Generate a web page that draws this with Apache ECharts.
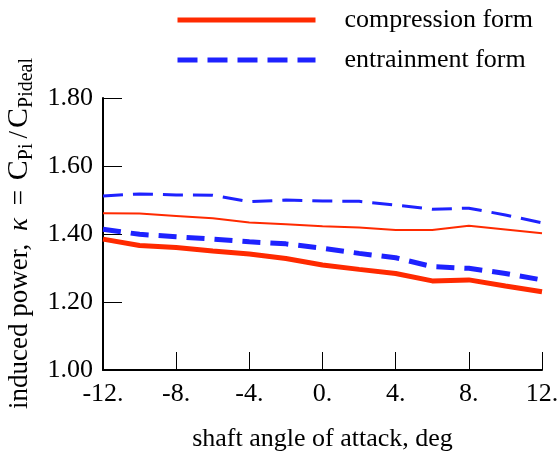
<!DOCTYPE html>
<html><head><meta charset="utf-8">
<script src="https://cdn.jsdelivr.net/npm/echarts@6/dist/echarts.min.js"></script>
<style>html,body{margin:0;padding:0;background:#fff}#c{width:560px;height:456px}</style>
</head><body><div id="c"></div>
<script>
var angles = [-12, -10, -8, -6, -4, -2, 0, 2, 4, 6, 8, 10, 12];
var compressionThin = [1.461, 1.460, 1.453, 1.446, 1.434, 1.429, 1.423, 1.419, 1.412, 1.412, 1.424, 1.413, 1.402];
var compressionThick = [1.385, 1.366, 1.360, 1.350, 1.341, 1.328, 1.309, 1.296, 1.284, 1.262, 1.265, 1.247, 1.230];
var entrainmentThin = [1.512, 1.518, 1.515, 1.514, 1.495, 1.500, 1.497, 1.496, 1.485, 1.473, 1.476, 1.456, 1.433];
var entrainmentThick = [1.414, 1.399, 1.392, 1.385, 1.377, 1.371, 1.358, 1.343, 1.330, 1.304, 1.299, 1.284, 1.265];
var legendNames = ['compression form', 'entrainment form'];

var RED = '#ff2a00', BLUE = '#1e22ff';
var FONT = 'Liberation Serif';
function pairs(v){ return angles.map(function(a,i){ return [a, v[i]]; }); }

function legendFor(name, top, ls){
  return {
    orient:'horizontal', left:170, top:top, itemWidth:138, itemHeight:20,
    selectedMode:false,
    textStyle:{fontFamily:FONT, fontSize:26, color:'#000', padding:[0,0,0,24]},
    itemStyle:{opacity:0},
    lineStyle:ls,
    data:[{name:name}]
  };
}

var chart = echarts.init(document.getElementById('c'), null, {renderer:'canvas'});
chart.setOption({
  animation:false,
  backgroundColor:'#fff',
  textStyle:{fontFamily:FONT, color:'#000'},
  grid:{left:103, right:18, top:98, bottom:86, containLabel:false, outerBoundsMode:'none'},
  legend:[
    legendFor(legendNames[0], 2, {color:RED, width:5, type:'solid', opacity:1}),
    legendFor(legendNames[1], 42, {color:BLUE, width:5, type:[20,10], opacity:1})
  ],
  xAxis:{
    type:'value', min:-12, max:12, interval:4,
    name:'shaft angle of attack, deg', nameLocation:'middle', nameGap:56,
    nameTextStyle:{fontFamily:FONT, fontSize:26, color:'#000'},
    axisLine:{onZero:false, lineStyle:{color:'#000', width:2}},
    axisTick:{inside:true, length:18, lineStyle:{color:'#000', width:1}},
    axisLabel:{fontFamily:FONT, fontSize:26, color:'#000', margin:11,
      formatter:function(v){ return v + '.'; }},
    splitLine:{show:false}
  },
  yAxis:{
    type:'value', min:1.0, max:1.8, interval:0.2,
    name:'{a|induced power, }{k|κ}{a| = }{c|C}{s|Pi}{a|/}{c|C}{s|Pideal}',
    nameLocation:'middle', nameGap:66, nameRotate:90,
    nameTextStyle:{fontFamily:FONT, fontSize:27, color:'#000',
      rich:{
        a:{fontFamily:FONT, fontSize:27, color:'#000', padding:[0,3,0,3]},
        k:{fontFamily:FONT, fontSize:27, color:'#000', fontStyle:'italic', padding:[0,3,0,3]},
        c:{fontFamily:FONT, fontSize:30, color:'#000'},
        s:{fontFamily:FONT, fontSize:20, color:'#000', padding:[14,2,0,0]}
      }},
    axisLine:{show:true, onZero:false, lineStyle:{color:'#000', width:2}},
    axisTick:{show:true, inside:true, length:19, lineStyle:{color:'#000', width:1}},
    axisLabel:{fontFamily:FONT, fontSize:26, color:'#000', margin:10,
      formatter:function(v){ return v.toFixed(2); }},
    splitLine:{show:false}
  },
  series:[
    {name:legendNames[0], type:'line', data:pairs(compressionThin), symbol:'none',
      lineStyle:{color:RED, width:2}, itemStyle:{color:RED}},
    {name:legendNames[0], type:'line', data:pairs(compressionThick), symbol:'none',
      lineStyle:{color:RED, width:5}, itemStyle:{color:RED}},
    {name:legendNames[1], type:'line', data:pairs(entrainmentThin), symbol:'none',
      lineStyle:{color:BLUE, width:3, type:[20,10]}, itemStyle:{color:BLUE}},
    {name:legendNames[1], type:'line', data:pairs(entrainmentThick), symbol:'none',
      lineStyle:{color:BLUE, width:5, type:[18,10]}, itemStyle:{color:BLUE}}
  ]
});
</script></body></html>
